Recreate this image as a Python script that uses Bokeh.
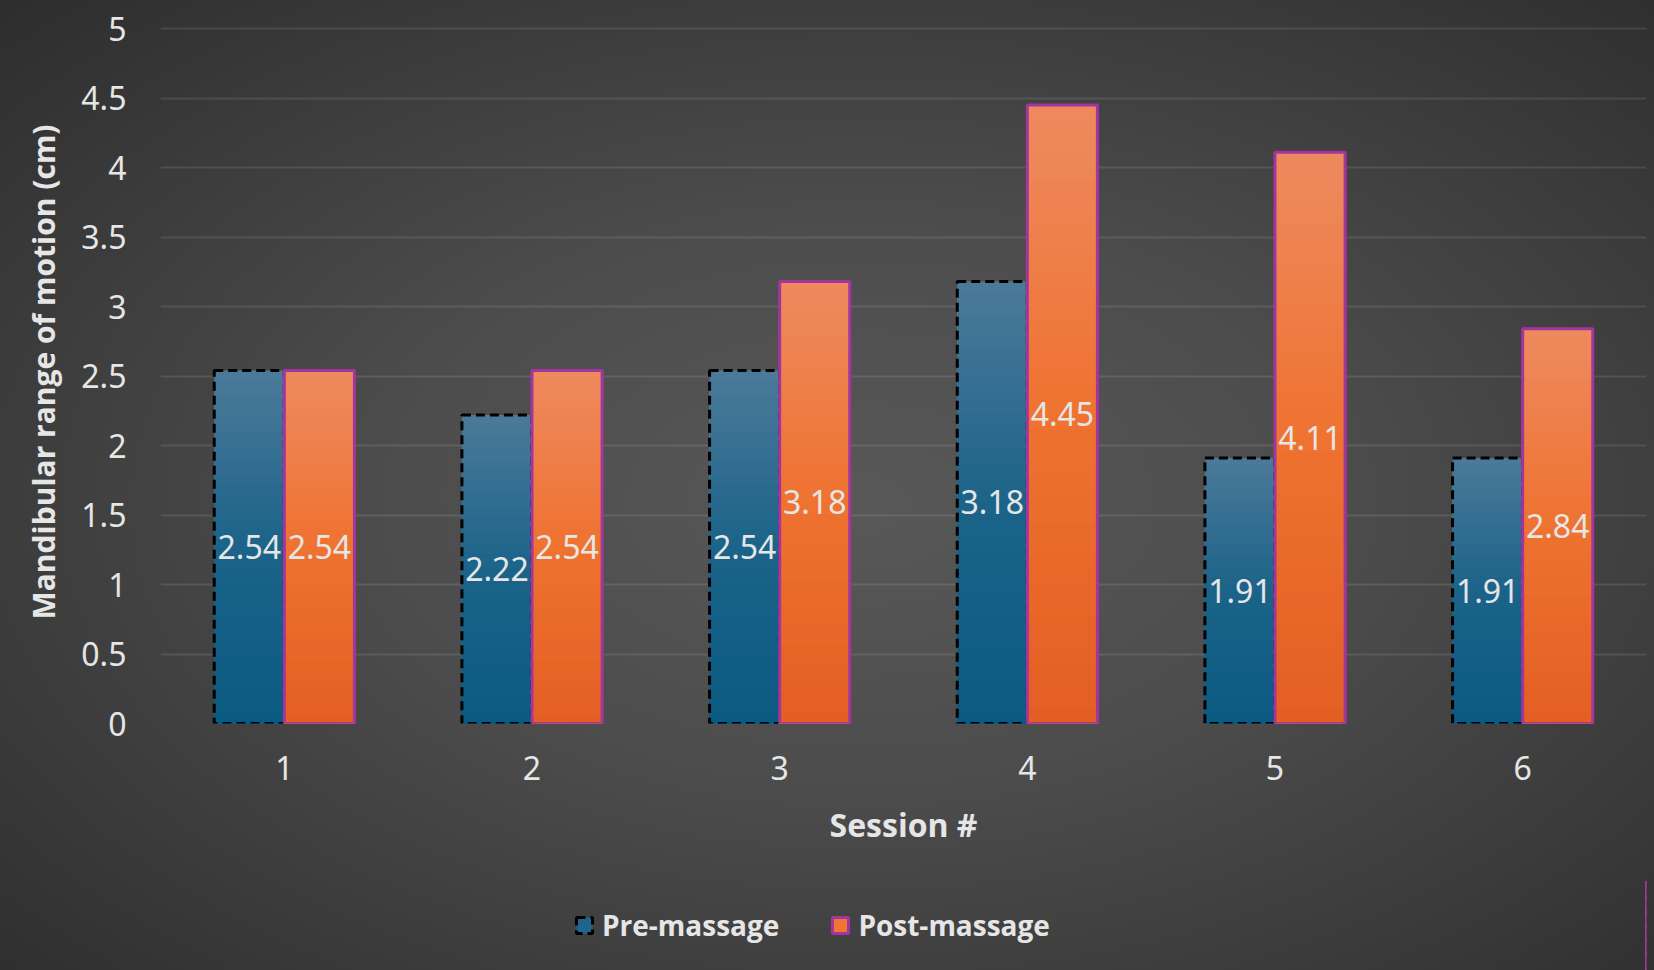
from bokeh.plotting import figure
from bokeh.layouts import column
from bokeh.models import Range1d, FixedTicker, Legend, LegendItem, ColumnDataSource
from bokeh.core.properties import value
from bokeh.embed import file_html
from bokeh.resources import INLINE

# ---- data ----
sessions = [1, 2, 3, 4, 5, 6]
pre_massage = [2.54, 2.22, 2.54, 3.18, 1.91, 1.91]
post_massage = [2.54, 2.54, 3.18, 4.45, 4.11, 2.84]
y_ticks = [0, 0.5, 1, 1.5, 2, 2.5, 3, 3.5, 4, 4.5, 5]
y_tick_labels = ["0", "0.5", "1", "1.5", "2", "2.5", "3", "3.5", "4", "4.5", "5"]
x_title = "Session #"
y_title = "Mandibular range of motion (cm)"
series_names = ["Pre-massage", "Post-massage"]

# ---- style ----
BAR_W = 0.283
OFF = 0.1415
TXT = "#e6e6e6"
N_STEPS = 40
PRE_LINE = dict(line_color="black", line_dash="9 5", line_width=3)
POST_LINE = dict(line_color="#a3369e", line_dash="solid", line_width=3)


def hex2rgb(h):
    h = h.lstrip("#")
    return [int(h[i:i + 2], 16) for i in (0, 2, 4)]


def grad(stops, f):
    for (p0, c0), (p1, c1) in zip(stops[:-1], stops[1:]):
        if p0 <= f <= p1:
            t = (f - p0) / (p1 - p0) if p1 > p0 else 0
            a, b = hex2rgb(c0), hex2rgb(c1)
            return "#%02x%02x%02x" % tuple(int(round(a[i] + (b[i] - a[i]) * t)) for i in range(3))
    return stops[-1][1]


blue_stops = [(0.0, "#0b5a82"), (0.5, "#1b6389"), (1.0, "#4c7a99")]
orange_stops = [(0.0, "#e35e23"), (0.5, "#ef7230"), (1.0, "#ee8a5f")]

p = figure(width=1654, height=880, frame_width=1486, frame_height=703,
           output_backend="svg", toolbar_location=None,
           x_range=Range1d(0.5, 6.5), y_range=Range1d(0, 5.0576),
           min_border_left=160, min_border_right=8, min_border_top=20, min_border_bottom=157)
p.border_fill_alpha = 0
p.background_fill_alpha = 0
p.outline_line_color = None

pre_x = [s - OFF for s in sessions]
post_x = [s + OFF for s in sessions]

src_pre = ColumnDataSource(dict(x=pre_x, top=pre_massage, mid=[v / 2 for v in pre_massage],
                                lab=["%.2f" % v for v in pre_massage]))
src_post = ColumnDataSource(dict(x=post_x, top=post_massage, mid=[v / 2 for v in post_massage],
                                 lab=["%.2f" % v for v in post_massage]))


def draw_series(xs, vals, stops, line):
    for k in range(N_STEPS):
        f = 1 - k / N_STEPS
        fm = 1 - (k + 0.5) / N_STEPS
        p.vbar(x=xs, top=[v * f for v in vals], width=BAR_W,
               fill_color=grad(stops, fm), line_color=None)
    p.vbar(x=xs, top=vals, width=BAR_W, fill_color=None, **line)


draw_series(pre_x, pre_massage, blue_stops, PRE_LINE)
draw_series(post_x, post_massage, orange_stops, POST_LINE)

for src in (src_pre, src_post):
    p.text(x="x", y="mid", text="lab", source=src, text_align="center", text_baseline="middle",
           text_font=value("Noto Sans"), text_font_size="32px", text_color=TXT)

# axes
p.xaxis.ticker = FixedTicker(ticks=sessions)
p.yaxis.ticker = FixedTicker(ticks=y_ticks)
p.yaxis.major_label_overrides = {t: l for t, l in zip(y_ticks, y_tick_labels)}
for ax in (p.xaxis[0], p.yaxis[0]):
    ax.axis_line_color = None
    ax.major_tick_line_color = None
    ax.minor_tick_line_color = None
    ax.major_tick_out = 0
    ax.major_tick_in = 0
    ax.major_label_text_font = "Noto Sans"
    ax.major_label_text_font_size = "32px"
    ax.major_label_text_color = TXT
    ax.axis_label_text_font = "Open Sans"
    ax.axis_label_text_font_style = "bold"
    ax.axis_label_text_color = TXT

p.xaxis.axis_label = x_title
p.xaxis.axis_label_text_font_size = "32px"
p.xaxis.major_label_standoff = 32
p.xaxis.axis_label_standoff = 20

p.yaxis.axis_label = y_title
p.yaxis.axis_label_text_font_size = "30px"
p.yaxis.major_label_standoff = 34
p.yaxis.axis_label_standoff = 14

p.xgrid.grid_line_color = None
p.ygrid.grid_line_color = "white"
p.ygrid.grid_line_alpha = 0.1
p.ygrid.grid_line_width = 2

# ---- legend strip (key renderers sit outside the strip's visible range) ----
p2 = figure(width=1654, height=90, output_backend="svg", toolbar_location=None,
            x_range=Range1d(0, 1), y_range=Range1d(0, 1), min_border=0)
p2.border_fill_alpha = 0
p2.background_fill_alpha = 0
p2.outline_line_color = None
p2.axis.visible = False
p2.grid.visible = False
lr_pre = p2.vbar(x=[sessions[0] + 10], top=[pre_massage[0]], width=0.1,
                 fill_color=grad(blue_stops, 0.55), **PRE_LINE)
lr_post = p2.vbar(x=[sessions[0] + 10], top=[post_massage[0]], width=0.1,
                  fill_color=grad(orange_stops, 0.55), **POST_LINE)

legend = Legend(items=[LegendItem(label=series_names[0], renderers=[lr_pre]),
                       LegendItem(label=series_names[1], renderers=[lr_post])],
                orientation="horizontal", location=(414, 26))
legend.label_text_font = "Open Sans"
legend.label_text_font_style = "bold"
legend.label_text_font_size = "28px"
legend.label_text_color = TXT
legend.glyph_width = 20
legend.glyph_height = 20
legend.label_standoff = 8
legend.spacing = 51
legend.padding = 0
legend.margin = 0
legend.background_fill_alpha = 0
legend.border_line_alpha = 0
p2.add_layout(legend)

layout = column(p, p2, spacing=0,
                styles={"background": "radial-gradient(ellipse farthest-corner at 52% 52%, #585858 0%, #4c4c4c 40%, #2d2d2d 100%)"})

open("out.html", "w").write(file_html(layout, INLINE))
